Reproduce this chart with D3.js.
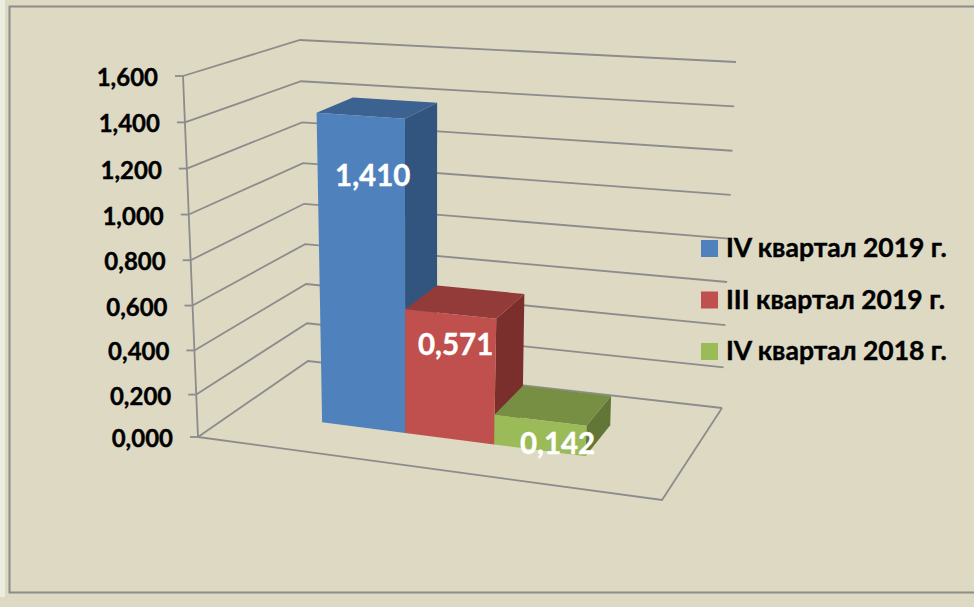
<!DOCTYPE html>
<html lang="ru">
<head>
<meta charset="UTF-8">
<title>Chart</title>
<script src="https://cdnjs.cloudflare.com/ajax/libs/d3/7.8.5/d3.min.js"></script>
<style>
    html, body { margin: 0; padding: 0; background: #DDD9C3; overflow: hidden; }
    svg { display: block; }
    text { font-family: Lato, "Open Sans", sans-serif; font-weight: 700; stroke-width: 0.4; }
</style>
</head>
<body>
<svg id="chart" width="974" height="607"></svg>
<script>
const categories = ["IV квартал 2019 г.", "III квартал 2019 г.", "IV квартал 2018 г."];
const values = [1.410, 0.571, 0.142];
const tickValues = [0, 0.2, 0.4, 0.6, 0.8, 1.0, 1.2, 1.4, 1.6];
const frontColors = ["#4F81BD", "#C0504D", "#9BBB59"];
const topColors = ["#3B6290", "#933B39", "#768F43"];
const sideColors = ["#32557F", "#7A2F2D", "#627637"];

// hand placed data labels, offset from the top middle of the front face
const labelNudge = [[12, 60], [5, 31], [17, 24]];

const svg = d3.select("#chart");

// plot box corners as measured on the picture: f/b front/back, l/r left/right
const box = {
    fl0: [198, 437], bl0: [308, 361], fr0: [662, 500], br0: [722, 408],
    fl1: [183, 76], bl1: [300, 40], fr1: [685, 110], br1: [736, 62]
};

const lerp = (a, b, t) => [a[0] + (b[0] - a[0]) * t, a[1] + (b[1] - a[1]) * t];

// u across, v into the picture, w up, all 0..1
function project(u, v, w) {
    const bottom = lerp(lerp(box.fl0, box.fr0, u), lerp(box.bl0, box.br0, u), v);
    const top = lerp(lerp(box.fl1, box.fr1, u), lerp(box.bl1, box.br1, u), v);
    return lerp(bottom, top, w);
}

// slight powers stand in for the perspective of the 3D view
const w = d3.scalePow().exponent(1.03).domain([0, 1.6]).range([0, 1]);
const u = d3.scalePow().exponent(1.05).domain([0, categories.length]).range([0.194, 0.783]);
const vFront = 0.34, vBack = 0.69;

const line = d3.line();
const grey = "#8C8C8C";

// outer frame and pale strip on the left
svg.append("rect").attr("x", 0).attr("y", 0).attr("width", 5).attr("height", 597).attr("fill", "#EAEDE0");
svg.append("path")
    .attr("d", "M974,6.5H9.5V592.5H974")
    .attr("fill", "none").attr("stroke", grey).attr("stroke-width", 2);

// walls
const grid = svg.append("g").attr("fill", "none").attr("stroke", grey).attr("stroke-width", 1.8);
tickValues.forEach(t => {
    grid.append("path").attr("d", line([project(0, 0, w(t)), project(0, 1, w(t)), project(1, 1, w(t))]));
    const p = project(0, 0, w(t));
    grid.append("path").attr("d", line([[p[0] - 8, p[1]], p]));
});
grid.append("path").attr("d", line([project(0, 0, 0), project(0, 0, 1)]));
grid.append("path").attr("d", line([project(0, 0, 0), project(1, 0, 0), project(1, 1, 0)]));

// tick labels
svg.append("g").selectAll("text").data(tickValues).join("text")
    .attr("x", d => project(0, 0, w(d))[0] - 25)
    .attr("y", d => project(0, 0, w(d))[1] + 10)
    .attr("text-anchor", "end")
    .attr("font-size", 24)
    .attr("fill", "#000")
    .attr("stroke", "#000")
    .text(d => d.toFixed(3).replace(".", ","));

// columns, left to right so each one covers the side of the previous one
const bars = svg.append("g");
values.forEach((val, i) => {
    const u0 = u(i), u1 = u(i + 1), h = w(val);
    bars.append("path").attr("fill", sideColors[i])
        .attr("d", line([project(u1, vFront, 0), project(u1, vBack, 0), project(u1, vBack, h), project(u1, vFront, h)]) + "Z");
    bars.append("path").attr("fill", topColors[i])
        .attr("d", line([project(u0, vFront, h), project(u0, vBack, h), project(u1, vBack, h), project(u1, vFront, h)]) + "Z");
    bars.append("path").attr("fill", frontColors[i])
        .attr("d", line([project(u0, vFront, 0), project(u1, vFront, 0), project(u1, vFront, h), project(u0, vFront, h)]) + "Z");
});

// data labels
svg.append("g").selectAll("text").data(values).join("text")
    .attr("x", (d, i) => project((u(i) + u(i + 1)) / 2, vFront, w(d))[0] + labelNudge[i][0])
    .attr("y", (d, i) => project((u(i) + u(i + 1)) / 2, vFront, w(d))[1] + labelNudge[i][1] + 10)
    .attr("text-anchor", "middle")
    .attr("font-size", 29.5)
    .attr("fill", "#fff")
    .attr("stroke", "#fff")
    .text(d => d.toFixed(3).replace(".", ","));

// legend
const legend = svg.append("g").attr("transform", "translate(701,240)");
const legendY = d3.scalePoint().domain(categories).range([0, 103]);
categories.forEach((c, i) => {
    legend.append("rect").attr("x", 0).attr("y", legendY(c)).attr("width", 17).attr("height", 17).attr("fill", frontColors[i]);
    legend.append("text").attr("x", 25).attr("y", legendY(c) + 17)
        .attr("font-size", 26.5).attr("fill", "#000").attr("stroke", "#000").text(c);
});
</script>
</body>
</html>
